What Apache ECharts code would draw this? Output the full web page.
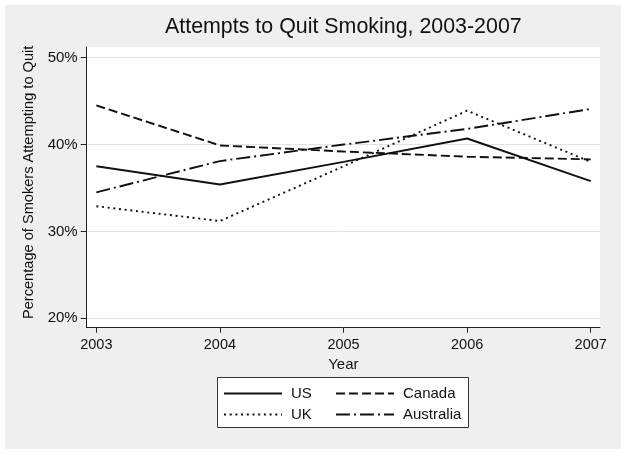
<!DOCTYPE html>
<html>
<head>
<meta charset="utf-8">
<script src="https://cdn.jsdelivr.net/npm/echarts@6/dist/echarts.min.js"></script>
<style>
html,body{margin:0;padding:0;background:#fff;}
#chart{width:621px;height:454px;}
</style>
</head>
<body>
<div id="chart"></div>
<script>
const years = [2003, 2004, 2005, 2006, 2007];
const yTicks = [20, 30, 40, 50];
const usValues = [37.5, 35.4, 38.0, 40.7, 35.8];
const canadaValues = [44.5, 39.9, 39.2, 38.6, 38.3];
const ukValues = [32.9, 31.2, 37.5, 43.9, 38.0];
const australiaValues = [34.5, 38.1, 40.0, 41.8, 44.1];

const FONT = '"Liberation Sans", Arial, sans-serif';
const INK = '#111111';

function pairs(vals) { return years.map((y, i) => [y, vals[i]]); }
function mkSeries(name, vals, type) {
  return {
    name: name, type: 'line', data: pairs(vals), symbol: 'none',
    lineStyle: { color: INK, width: 1.9, type: type, cap: 'butt' },
    itemStyle: { color: INK },
    emphasis: { disabled: true }, animation: false
  };
}

const chart = echarts.init(document.getElementById('chart'), null, { renderer: 'canvas' });
chart.setOption({
  animation: false,
  backgroundColor: '#ffffff',
  graphic: [
    { type: 'rect', z: -10, silent: true, shape: { x: 5, y: 5, width: 616, height: 444 }, style: { fill: '#efefef' } },
    { type: 'rect', z: 1, silent: true, shape: { x: 217.5, y: 377.5, width: 251, height: 50 }, style: { fill: '#ffffff', stroke: '#333333', lineWidth: 1 } }
  ],
  title: {
    text: 'Attempts to Quit Smoking, 2003-2007',
    left: 165, top: 17, padding: 0,
    textStyle: { fontFamily: FONT, fontSize: 21.4, fontWeight: 'normal', color: '#111' }
  },
  grid: {
    left: 86.7, right: 21, top: 47, bottom: 126.3,
    show: true, backgroundColor: '#ffffff', borderWidth: 0
  },
  legend: [
    {
      data: ['US', 'UK'], orient: 'vertical', left: 223, top: 386, padding: 0,
      itemWidth: 58, itemHeight: 14, itemGap: 6, z: 5,
      itemStyle: { color: 'rgba(0,0,0,0)', borderWidth: 0 },
      textStyle: { fontFamily: FONT, fontSize: 15, color: '#111', padding: [0, 0, 0, 4] },
      selectedMode: false
    },
    {
      data: ['Canada', 'Australia'], orient: 'vertical', left: 335, top: 386, padding: 0,
      itemWidth: 58, itemHeight: 14, itemGap: 6, z: 5,
      itemStyle: { color: 'rgba(0,0,0,0)', borderWidth: 0 },
      textStyle: { fontFamily: FONT, fontSize: 15, color: '#111', padding: [0, 0, 0, 4] },
      selectedMode: false
    }
  ],
  xAxis: {
    type: 'value', min: 2002.922, max: 2007.075,
    name: 'Year', nameLocation: 'middle', nameGap: 24,
    nameTextStyle: { fontFamily: FONT, fontSize: 15, color: '#111' },
    axisLine: { show: true, onZero: false, lineStyle: { color: '#222', width: 1 } },
    axisTick: { show: true, customValues: years, length: 5, lineStyle: { color: '#222' } },
    axisLabel: { customValues: years, margin: 10, fontFamily: FONT, fontSize: 14.5, color: '#111', formatter: v => String(v) },
    splitLine: { show: false }
  },
  yAxis: {
    type: 'value', min: 18.92, max: 51.23,
    name: 'Percentage of Smokers Attempting to Quit', nameLocation: 'middle', nameGap: 46, nameRotate: 90,
    nameTextStyle: { fontFamily: FONT, fontSize: 14.6, color: '#111', padding: [0, 0, 0, 10] },
    axisLine: { show: true, lineStyle: { color: '#222', width: 1 } },
    axisTick: { show: true, customValues: yTicks, length: 6, lineStyle: { color: '#222' } },
    axisLabel: { customValues: yTicks, margin: 9, fontFamily: FONT, fontSize: 15, color: '#111', formatter: v => v + '%' },
    splitLine: { show: true, customValues: yTicks, lineStyle: { color: '#e2e2e2', width: 1 } }
  },
  series: [
    mkSeries('US', usValues, 'solid'),
    mkSeries('Canada', canadaValues, [9, 4]),
    mkSeries('UK', ukValues, [2, 3.7]),
    mkSeries('Australia', australiaValues, [14, 4, 2, 4])
  ]
});
</script>
</body>
</html>
